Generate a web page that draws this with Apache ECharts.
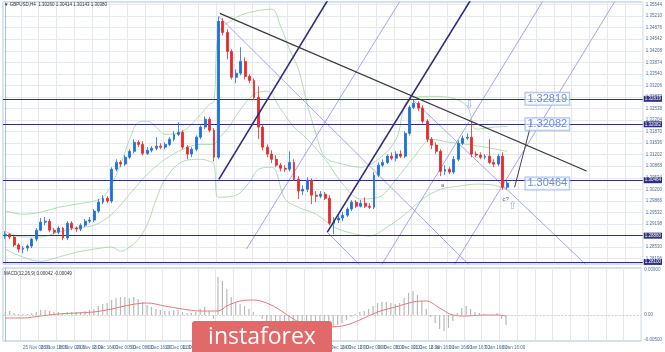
<!DOCTYPE html>
<html><head><meta charset="utf-8">
<script src="https://cdn.jsdelivr.net/npm/echarts@6/dist/echarts.min.js"></script>
<style>html,body{margin:0;padding:0;background:#fff;overflow:hidden}#c{width:665px;height:352px}</style>
</head><body><div id="c"></div>
<script>
// ---------- DATA ----------
const timeLabels = ['22 Nov 2019','25 Nov 08:00','26 Nov 16:00','28 Nov 00:00','29 Nov 08:00','2 Dec 16:00','4 Dec 00:00','5 Dec 08:00','6 Dec 16:00','10 Dec 00:00','11 Dec 08:00','12 Dec 16:00','13 Dec 08:00','16 Dec 16:00','17 Dec 16:00','18 Dec 16:00','19 Dec 16:00','20 Dec 16:00','23 Dec 16:00','24 Dec 16:00','27 Dec 00:00','30 Dec 08:00','31 Dec 00:00','31 Dec 16:00','2 Jan 16:00','3 Jan 16:00','6 Jan 16:00','7 Jan 16:00','8 Jan 16:00'];

const opens = [1.2885,1.2890,1.2882,1.2859,1.2847,1.2850,1.2856,1.2876,1.2902,1.2925,
 1.2928,1.2902,1.2896,1.2908,1.2879,1.2922,1.2908,1.2905,1.2916,1.2928,
 1.2931,1.2957,1.2983,1.2994,1.2986,1.3078,1.3098,1.3093,1.3113,1.3130,
 1.3156,1.3150,1.3124,1.3133,1.3139,1.3145,1.3142,1.3150,1.3165,1.3179,
 1.3185,1.3142,1.3122,1.3136,1.3171,1.3200,1.3223,1.3191,1.3113,1.3506,
 1.3474,1.3419,1.3344,1.3356,1.3390,1.3347,1.3335,1.3286,1.3200,1.3142,
 1.3122,1.3107,1.3090,1.3081,1.3078,1.3098,1.3049,1.3015,1.3020,1.3046,
 1.3003,1.3000,1.3006,1.2994,1.2922,1.2931,1.2937,1.2945,1.2963,1.2983,
 1.2971,1.2980,1.2971,1.2968,1.3061,1.3090,1.3098,1.3116,1.3110,1.3122,
 1.3116,1.3182,1.3257,1.3269,1.3255,1.3217,1.3165,1.3148,1.3130,1.3072,
 1.3078,1.3070,1.3107,1.3153,1.3168,1.3171,1.3122,1.3119,1.3113,1.3116,
 1.3098,1.3093,1.3116,1.3026];
const closes = [1.2890,1.2882,1.2859,1.2847,1.2850,1.2856,1.2876,1.2902,1.2925,1.2928,
 1.2902,1.2896,1.2908,1.2879,1.2922,1.2908,1.2905,1.2916,1.2928,1.2931,
 1.2957,1.2983,1.2994,1.2986,1.3078,1.3098,1.3093,1.3113,1.3130,1.3156,
 1.3150,1.3124,1.3133,1.3139,1.3145,1.3142,1.3150,1.3165,1.3179,1.3185,
 1.3142,1.3122,1.3136,1.3171,1.3200,1.3223,1.3191,1.3113,1.3506,1.3474,
 1.3419,1.3344,1.3356,1.3390,1.3347,1.3335,1.3286,1.3200,1.3142,1.3122,
 1.3107,1.3090,1.3081,1.3078,1.3098,1.3049,1.3015,1.3020,1.3046,1.3003,
 1.3000,1.3006,1.2994,1.2922,1.2931,1.2937,1.2945,1.2963,1.2983,1.2971,
 1.2980,1.2971,1.2968,1.3061,1.3090,1.3098,1.3116,1.3110,1.3122,1.3116,
 1.3182,1.3257,1.3269,1.3255,1.3217,1.3165,1.3148,1.3130,1.3072,1.3078,
 1.3070,1.3107,1.3153,1.3168,1.3171,1.3122,1.3119,1.3113,1.3116,1.3098,
 1.3093,1.3116,1.3026,1.3038];
const highs = [1.2899,1.2893,1.2885,1.2864,1.2856,1.2861,1.2879,1.2908,1.2937,1.2940,
 1.2934,1.2908,1.2913,1.2911,1.2928,1.2928,1.2913,1.2922,1.2934,1.2940,
 1.2963,1.2992,1.3003,1.3000,1.3084,1.3107,1.3104,1.3119,1.3136,1.3165,
 1.3162,1.3159,1.3142,1.3145,1.3171,1.3153,1.3156,1.3171,1.3188,1.3214,
 1.3191,1.3148,1.3142,1.3176,1.3205,1.3231,1.3229,1.3197,1.3520,1.3515,
 1.3483,1.3425,1.3367,1.3431,1.3402,1.3353,1.3341,1.3318,1.3208,1.3150,
 1.3133,1.3119,1.3096,1.3090,1.3130,1.3107,1.3058,1.3032,1.3055,1.3052,
 1.3015,1.3015,1.3012,1.3003,1.2940,1.2945,1.2954,1.2968,1.2989,1.2989,
 1.2989,1.2997,1.2980,1.3070,1.3098,1.3107,1.3122,1.3127,1.3130,1.3133,
 1.3188,1.3263,1.3281,1.3275,1.3263,1.3223,1.3171,1.3156,1.3136,1.3090,
 1.3084,1.3116,1.3162,1.3176,1.3182,1.3217,1.3130,1.3127,1.3122,1.3165,
 1.3107,1.3122,1.3127,1.3044];
const lows = [1.2876,1.2876,1.2853,1.2838,1.2835,1.2841,1.2850,1.2870,1.2899,1.2916,
 1.2896,1.2890,1.2890,1.2873,1.2873,1.2902,1.2896,1.2899,1.2911,1.2922,
 1.2925,1.2951,1.2977,1.2980,1.2980,1.3072,1.3084,1.3087,1.3107,1.3124,
 1.3142,1.3119,1.3119,1.3127,1.3133,1.3136,1.3136,1.3145,1.3159,1.3174,
 1.3136,1.3107,1.3113,1.3130,1.3165,1.3194,1.3185,1.3101,1.3107,1.3465,
 1.3396,1.3338,1.3327,1.3350,1.3338,1.3327,1.3278,1.3165,1.3133,1.3113,
 1.3096,1.3084,1.3072,1.3070,1.3072,1.3044,1.2992,1.3003,1.3012,1.2977,
 1.2983,1.2994,1.2989,1.2916,1.2890,1.2922,1.2928,1.2940,1.2957,1.2966,
 1.2968,1.2966,1.2963,1.2963,1.3055,1.3084,1.3093,1.3104,1.3101,1.3110,
 1.3110,1.3176,1.3252,1.3246,1.3211,1.3156,1.3136,1.3122,1.3058,1.3061,
 1.3064,1.3064,1.3101,1.3148,1.3162,1.3113,1.3113,1.3107,1.3107,1.3093,
 1.3084,1.3087,1.3018,1.3020];

// Bollinger bands read at sample bars: [bar index, price]
const upperBand = [[0,1.2957],[4,1.2948],[8,1.2954],[12,1.2968],[16,1.2977],[20,1.2986],[22,1.2997],[24,1.3035],[26,1.3093],[28,1.3165],[30,1.3214],[32,1.3217],[34,1.3200],[36,1.3179],[40,1.3188],[44,1.3237],[46,1.3266],[47,1.3275],[48,1.3470],[52,1.3517],[56,1.3535],[60,1.3541],[62,1.3491],[64,1.3425],[66,1.3367],[68,1.3266],[70,1.3179],[72,1.3113],[76,1.3093],[80,1.3084],[84,1.3107],[88,1.3165],[90,1.3266],[92,1.3286],[96,1.3289],[100,1.3286],[104,1.3260],[106,1.3194],[110,1.3200],[113,1.3202]];
const middleBand = [[0,1.2899],[4,1.2882],[8,1.2882],[12,1.2896],[16,1.2908],[20,1.2916],[24,1.2948],[28,1.3006],[32,1.3064],[36,1.3107],[40,1.3136],[44,1.3150],[47,1.3150],[48,1.3168],[50,1.3194],[53,1.3252],[56,1.3295],[59,1.3304],[62,1.3252],[65,1.3200],[68,1.3165],[72,1.3107],[76,1.3035],[80,1.2992],[84,1.2997],[88,1.3049],[92,1.3113],[96,1.3165],[100,1.3156],[104,1.3150],[108,1.3142],[113,1.3130]];
const lowerBand = [[0,1.2847],[4,1.2824],[8,1.2812],[12,1.2824],[16,1.2838],[20,1.2847],[24,1.2853],[26,1.2841],[28,1.2853],[30,1.2876],[32,1.2919],[34,1.2992],[36,1.3049],[40,1.3101],[44,1.3107],[46,1.3101],[47,1.3093],[48,1.2997],[52,1.3003],[55,1.3041],[57,1.3078],[60,1.3084],[63,1.2992],[66,1.2968],[70,1.2948],[74,1.2911],[78,1.2893],[82,1.2885],[86,1.2911],[90,1.2948],[94,1.2992],[98,1.3020],[102,1.3029],[106,1.3035],[110,1.3032],[113,1.3020]];

const macdHist = [0.0006,0.0008,0.0004,0.0002,0.0002, 0.0002,0.0004,0.0006,0.0010,0.0010,
 0.0008,0.0006,0.0006,0.0004,0.0006, 0.0006,0.0006,0.0006,0.0008,0.0010,
 0.0012,0.0018,0.0022,0.0024,0.0030, 0.0034,0.0036,0.0036,0.0034,0.0036,
 0.0032,0.0026,0.0020,0.0016,0.0012, 0.0010,0.0008,0.0008,0.0010,0.0010,
 0.0006,0.0004,0.0004,0.0006,0.0012, 0.0016,0.0008,-0.0008,0.0076,0.0068,
 0.0052,0.0036,0.0026,0.0022,0.0018, 0.0012,0.0006,0,-0.0008,-0.0016,
 -0.0020,-0.0022,-0.0024,-0.0024,-0.0022, -0.0026,-0.0030,-0.0028,-0.0024,-0.0026,
 -0.0024,-0.0022,-0.0026,-0.0028,-0.0024, -0.0020,-0.0016,-0.0010,-0.0004,0.0002,
 0.0006,0.0008,0.0012,0.0018,0.0024, 0.0026,0.0026,0.0024,0.0022,0.0024,
 0.0034,0.0044,0.0048,0.0040,0.0028, 0.0012,-0.0004,-0.0016,-0.0028,-0.0032,
 -0.0026,-0.0012,0.0004,0.0014,0.0018, 0.0012,0.0006,0.0004,0.0002,0,
 -0.0002,0.0004,-0.0008,-0.0020];
const macdSignal = [[0,-0.0006],[4,-0.0006],[8,-0.0002],[12,0.0002],[16,0.0004],[20,0.0006],[24,0.0012],[28,0.0020],[32,0.0024],[36,0.0018],[40,0.0012],[44,0.0008],[48,0.0008],[50,0.0018],[53,0.0028],[56,0.0030],[59,0.0024],[62,0.0010],[65,-0.0008],[68,-0.0020],[72,-0.0024],[76,-0.0022],[80,-0.0010],[84,0.0006],[88,0.0016],[92,0.0026],[95,0.0028],[98,0.0014],[101,0],[104,-0.0002],[108,0],[111,0],[113,-0.0002]];

const priceTicks = [1.28196,1.28530,1.28864,1.29198,1.29532,1.29866,1.30200,1.30534,1.30868,1.31202,1.31536,1.31870,1.32204,1.32538,1.32872,1.33206,1.33540,1.33874,1.34208,1.34542,1.34876,1.35210,1.35544];
const macdTicks = [-0.0050, 0, 0.0090];
const levelValues = [1.32819, 1.32082, 1.30464, 1.28860, 1.28100];
const currentPrice = 1.30380;

// drawn analysis lines, endpoints in (bar index, price)
const trendLine = [[48.31,1.3529],[130.85,1.3073]];
const medianLines = [[[48.09,1.3049],[74.05,1.3598]], [[72.5,1.2896],[106.22,1.3598]]];
const channelLines = [[[54.3,1.2847],[90.47,1.3598]], [[84.7,1.2801],[122.6,1.3598]], [[100.46,1.2789],[138.84,1.3598]],
  [[48.09,1.3520],[104.45,1.2801]], [[91.58,1.3281],[131.3,1.2795]], [[72.5,1.2896],[79.82,1.2801]]];
const shortLine = [[114.66,1.3026],[118.65,1.3223]];

const levelBoxes = [['1.32819',117.1,1.32819],['1.32082',117.1,1.32082],['1.30464',117.1,1.30370]];
const notes = [['a',98.46,1.30327],['c?',112.66,1.29923]];
const arrows = [['⇩',104.45,1.32640],['⇧',114.2,1.29721]];

// ---------- CHART ----------
const N = 144;
const cats = Array.from({length:N}, (_, i) => (i % 4 === 0 && i/4 < timeLabels.length) ? timeLabels[i/4] : '');
const gridCol = '#e4e9f0';
const frameCol = '#a9c1dc';
const tinyFont = {fontSize:4.5, color:'#4f6f95', fontFamily:'Liberation Sans'};

function lineSeries(pts, color, width, z){
  return {type:'line', xAxisIndex:2, yAxisIndex:0, data:pts, symbol:'none', silent:true, clip:true,
    lineStyle:{color, width}, z, animation:false};
}

const series = [];
series.push({type:'candlestick', xAxisIndex:0, yAxisIndex:0, z:5,
  data: opens.map((o,i)=>[o, closes[i], lows[i], highs[i]]),
  barWidth:2.4,
  itemStyle:{color:'#1f6fd6', color0:'#e42a2a', borderColor:'#1f6fd6', borderColor0:'#e42a2a', borderWidth:0.8},
  markLine:{symbol:'none', silent:true, animation:false, precision:5,
    lineStyle:{color:'#2f2f85', width:1.2, type:'solid'},
    label:{position:'end', distance:1, formatter:p=>Number(p.value).toFixed(5), backgroundColor:'#2f2f85', color:'#fff', fontSize:4.5, padding:[1,1,0,1], fontFamily:'Liberation Sans'},
    data: levelValues.map(v=>({yAxis:v})).concat([{yAxis:currentPrice, lineStyle:{opacity:0}, label:{backgroundColor:'#3a7be0'}}])
  }
});
[upperBand, middleBand, lowerBand].forEach(b=>{
  series.push({type:'line', xAxisIndex:2, yAxisIndex:0, data:b, symbol:'none', smooth:0.35, silent:true, z:3,
    lineStyle:{color:'#9ed39e', width:0.8}});
});
series.push(lineSeries(trendLine, '#3b3b3b', 1.3, 6));
medianLines.forEach(l=>series.push(lineSeries(l, '#2c2c7a', 1.6, 6)));
channelLines.forEach(l=>series.push(lineSeries(l, '#9b9be4', 0.9, 4)));
series.push(lineSeries(shortLine, '#444', 1, 6));

series.push({type:'scatter', xAxisIndex:2, yAxisIndex:0, symbolSize:0, silent:true, z:20,
  data: levelBoxes.map(b=>({value:[b[1], b[2]], label:{show:true, position:'right', distance:0, formatter:b[0],
    color:'#4470d2', fontSize:11, fontFamily:'Liberation Sans', backgroundColor:'rgba(255,255,255,0.85)',
    borderColor:'#93b1e6', borderWidth:1, padding:[1,2,0,2]}}))
    .concat(notes.map(n=>({value:[n[1], n[2]], label:{show:true, position:'inside', formatter:n[0], color:'#333', fontSize:6, fontFamily:'Liberation Sans'}})))
    .concat(arrows.map(a=>({value:[a[1], a[2]], label:{show:true, position:'inside', formatter:a[0], color:'#7ca3ea', fontSize:11, fontFamily:'DejaVu Sans'}})))
});

series.push({type:'bar', xAxisIndex:1, yAxisIndex:1, data:macdHist, barWidth:1.2, silent:true,
  itemStyle:{color:'#b9b9b9'},
  markLine:{symbol:'none', silent:true, precision:5, label:{show:false}, lineStyle:{color:'#b8b8b8', type:'dashed', width:0.6}, data:[{yAxis:0}]}
});
series.push({type:'line', xAxisIndex:3, yAxisIndex:1, data:macdSignal, symbol:'none', smooth:0.35, silent:true,
  lineStyle:{color:'#e47a7a', width:1}});

const option = {
  animation:false,
  backgroundColor:'#fff',
  grid:[
    {left:3, top:2, width:649, height:262, show:true, borderColor:frameCol, borderWidth:1},
    {left:3, top:268, width:649, height:73, show:true, borderColor:frameCol, borderWidth:1}
  ],
  xAxis:[
    {type:'category', gridIndex:0, data:cats, axisLine:{show:false}, axisTick:{show:false}, axisLabel:{show:false},
      splitLine:{show:true, interval:3, lineStyle:{color:gridCol, width:1}}},
    {type:'category', gridIndex:1, data:cats, axisLine:{show:false}, axisTick:{show:false},
      axisLabel:Object.assign({show:true, interval:3, margin:4, align:'left'}, tinyFont),
      splitLine:{show:true, interval:3, lineStyle:{color:gridCol, width:1}}},
    {type:'value', gridIndex:0, min:-0.5, max:N-0.5, show:false},
    {type:'value', gridIndex:1, min:-0.5, max:N-0.5, show:false}
  ],
  yAxis:[
    {type:'value', gridIndex:0, position:'right', min:1.2804, max:1.3562,
      axisLine:{show:true, lineStyle:{color:frameCol}},
      axisTick:{show:false, customValues:priceTicks},
      axisLabel:Object.assign({customValues:priceTicks, margin:3, formatter:v=>v.toFixed(5)}, tinyFont),
      splitLine:{show:true, lineStyle:{color:gridCol}}},
    {type:'value', gridIndex:1, position:'right', min:-0.0052, max:0.0094,
      axisLine:{show:true, lineStyle:{color:frameCol}},
      axisTick:{show:false, customValues:macdTicks},
      axisLabel:Object.assign({customValues:macdTicks, margin:3, formatter:v=> v===0 ? '0.00' : v.toFixed(5)}, tinyFont),
      splitLine:{show:false}}
  ],
  graphic:[
    {type:'text', left:4, top:2, z:50, style:{text:'▼ GBPUSD,H4  1.30260 1.30414 1.30143 1.30380', fontSize:4.5, fill:'#333', fontFamily:'Liberation Sans'}},
    {type:'text', left:4, top:271, z:50, style:{text:'MACD(12,26,9) 0.00042 -0.00049', fontSize:4.5, fill:'#333', fontFamily:'Liberation Sans'}},
    {type:'rect', z:100, shape:{x:192, y:321, width:140, height:36, r:3}, style:{fill:'#e06a6a'}},
    {type:'text', z:101, x:262, y:337, style:{text:'instaforex', fill:'#fff', fontSize:23, fontFamily:'Open Sans', fontWeight:'normal', align:'center', verticalAlign:'middle', textAlign:'center', textVerticalAlign:'middle'}}
  ],
  series
};
const chart = echarts.init(document.getElementById('c'), null, {renderer:'canvas'});
chart.setOption(option);
</script></body></html>
